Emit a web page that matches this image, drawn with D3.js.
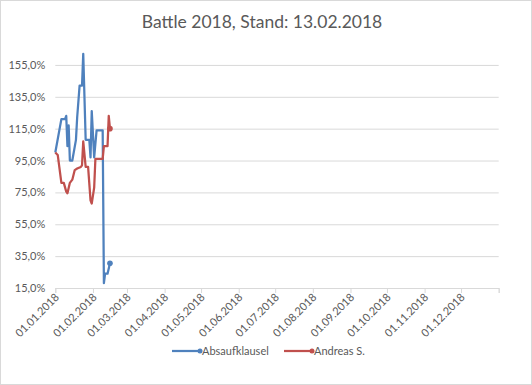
<!DOCTYPE html>
<html>
<head>
<meta charset="utf-8">
<script src="https://cdn.jsdelivr.net/npm/d3@7"></script>
<style>
  body { margin: 0; background: #fff; }
  svg { font-family: Lato, "Open Sans", sans-serif; }
</style>
</head>
<body>
<svg id="chart"></svg>
<script>
// Daten
let blueDates = ['2018-01-01','2018-01-06','2018-01-09','2018-01-10','2018-01-11','2018-01-12','2018-01-13','2018-01-15',
  '2018-01-18','2018-01-19','2018-01-21','2018-01-23','2018-01-24','2018-01-26','2018-01-29','2018-01-30','2018-01-31',
  '2018-02-02','2018-02-04','2018-02-09','2018-02-10','2018-02-11','2018-02-13','2018-02-15']
let blueValues = [100, 121, 121, 123, 104, 117, 95, 95,
  108, 122, 142, 142, 162, 108, 108, 97, 126,
  97, 114, 114, 18, 24, 24, 30.5]

let redDates = ['2018-01-01','2018-01-03','2018-01-06','2018-01-08','2018-01-10','2018-01-11','2018-01-13','2018-01-15',
  '2018-01-17','2018-01-19','2018-01-22','2018-01-23','2018-01-24','2018-01-26','2018-01-28','2018-01-30','2018-01-31',
  '2018-02-02','2018-02-03','2018-02-09','2018-02-10','2018-02-13','2018-02-14','2018-02-15']
let redValues = [100, 98.5, 81, 81, 75.5, 74.5, 81, 83,
  89, 90, 91, 92, 107, 91, 91, 70, 68,
  78, 96, 96, 104, 104, 123, 115]

let seriesNames = ['Absaufklausel', 'Andreas S.']
let yTicks = [15, 35, 55, 75, 95, 115, 135, 155]
let title = 'Battle 2018, Stand: 13.02.2018'

let width = 532, height = 385
let parse = d3.timeParse('%Y-%m-%d')
let fmtDate = d3.timeFormat('%d.%m.%Y')
let fmtPct = v => v.toFixed(1).replace('.', ',') + '%'

let svg = d3.select('#chart').attr('width', width).attr('height', height)

// Rahmen
svg.append('rect')
  .attr('x', 0.5).attr('y', 0.5)
  .attr('width', width - 1).attr('height', height - 1)
  .attr('fill', '#fff').attr('stroke', '#d9d9d9')

let x = d3.scaleTime()
  .domain([parse('2018-01-01'), parse('2019-01-01')])
  .range([55.3, 498.7])
let y = d3.scaleLinear().domain([15, 165]).range([288, 49])

// Titel
svg.append('text')
  .attr('x', 262).attr('y', 28)
  .attr('text-anchor', 'middle')
  .attr('font-size', 17.5)
  .attr('fill', '#595959')
  .text(title)

// Gitterlinien + y-Achse
let yAxis = svg.append('g')
  .attr('transform', 'translate(55.3,0)')
  .call(d3.axisLeft(y).tickValues(yTicks).tickSize(-(498.7 - 55.3)).tickFormat(fmtPct).tickPadding(10))
yAxis.select('.domain').remove()
yAxis.selectAll('.tick line').attr('stroke', '#d9d9d9')
yAxis.selectAll('.tick text').attr('fill', '#595959').attr('font-size', 11).attr('font-family', 'Lato, sans-serif')

// x-Achse
let months = d3.timeMonth.range(parse('2018-01-01'), parse('2019-01-02'))
let xAxis = svg.append('g')
  .attr('transform', 'translate(0,288)')
  .call(d3.axisBottom(x).tickValues(months).tickSize(5)
    .tickFormat(d => d.getFullYear() === 2018 ? fmtDate(d) : ''))
xAxis.select('.domain').attr('stroke', '#d9d9d9')
xAxis.selectAll('.tick line').attr('stroke', '#d9d9d9')
xAxis.selectAll('.tick text')
  .attr('fill', '#595959').attr('font-size', 11).attr('font-family', 'Lato, sans-serif')
  .attr('text-anchor', 'end')
  .attr('dy', null).attr('y', 0)
  .attr('transform', 'translate(4,10) rotate(-45)')

// Linien
let series = [
  { name: seriesNames[0], color: '#4f81bd', pts: blueDates.map((d, i) => [parse(d), blueValues[i]]) },
  { name: seriesNames[1], color: '#c0504d', pts: redDates.map((d, i) => [parse(d), redValues[i]]) }
]
let line = d3.line().x(d => x(d[0])).y(d => y(d[1]))

series.forEach(s => {
  svg.append('path')
    .datum(s.pts)
    .attr('d', line)
    .attr('fill', 'none')
    .attr('stroke', s.color)
    .attr('stroke-width', 2.25)
    .attr('stroke-linejoin', 'round')
  let last = s.pts[s.pts.length - 1]
  svg.append('circle')
    .attr('cx', x(last[0])).attr('cy', y(last[1]))
    .attr('r', 2.8).attr('fill', s.color)
})

// Legende
let legendX = [172, 284]
series.forEach((s, i) => {
  let g = svg.append('g').attr('transform', `translate(${legendX[i]},351)`)
  g.append('line').attr('x1', 0).attr('x2', 28).attr('stroke', s.color).attr('stroke-width', 2.25)
  g.append('circle').attr('cx', 28).attr('r', 2.5).attr('fill', s.color)
  g.append('text').attr('x', 30).attr('y', 4)
    .attr('font-size', 11).attr('fill', '#595959')
    .text(s.name)
})
</script>
</body>
</html>
